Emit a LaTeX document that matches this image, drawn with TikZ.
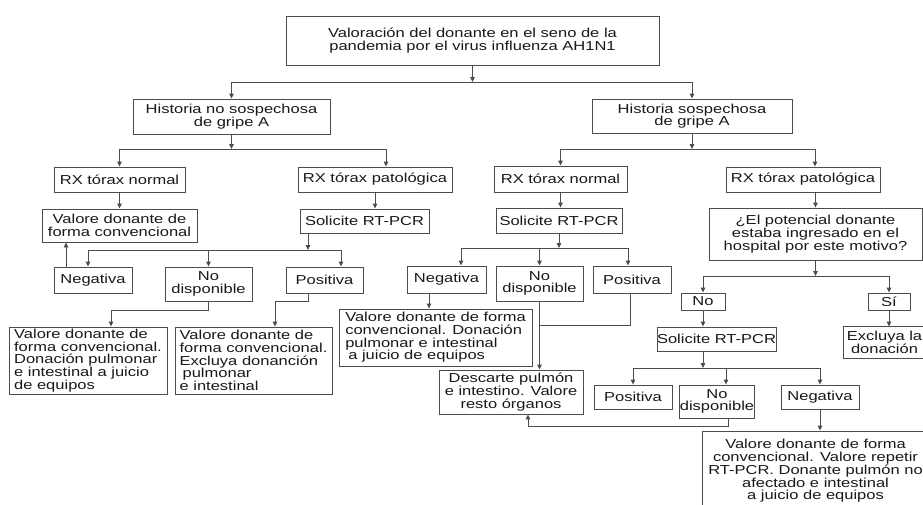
\documentclass[tikz,border=0pt]{standalone}
\usepackage{fontspec}
\setmainfont{Liberation Sans}[FakeStretch=1.27]
\usetikzlibrary{arrows.meta}
\begin{document}
\begin{tikzpicture}[x=1pt,y=-1pt,
  box/.style={draw=black!70, line width=0.9pt, inner sep=0pt, align=center,
    font=\fontsize{13}{12.7}\selectfont, text=black!90},
  lbox/.style={box, align=left},
  sz/.style 2 args={minimum width=#1pt, minimum height=#2pt},
  arr/.style={draw=black!70, line width=0.9pt, -{Triangle[length=5pt,width=4.5pt]}},
  ln/.style={draw=black!70, line width=0.9pt}]
\useasboundingbox (0,0) rectangle (923,504);
\clip (0,0) rectangle (923,504);
\fill[white] (0,0) rectangle (923,504);

% nodes
\node[box, sz={373}{49}] (top) at (472.5,40.5) {Valoración del donante en el seno de la\\pandemia por el virus influenza AH1N1};
\node[box, sz={197}{35}] (hns) at (231.5,116.5) {Historia no sospechosa\\de gripe A};
\node[box, sz={200}{34}] (hs) at (692,116) {Historia sospechosa\\de gripe A};

\node[box, sz={131}{25}] (rxn1) at (119.5,179.5) {RX tórax normal};
\node[box, sz={154}{25}] (rxp1) at (375,179.5) {RX tórax patológica};
\node[box, sz={155}{33}] (val1) at (119.5,225.5) {Valore donante de\\forma convencional};
\node[box, sz={129}{24}] (sol1) at (364.5,221) {Solicite RT-PCR};
\node[box, sz={78}{26}] (neg1) at (93,280) {Negativa};
\node[box, sz={87}{34}] (nd1) at (208.5,284) {No\\disponible};
\node[box, sz={77}{26}] (pos1) at (324.5,280) {Positiva};
\node[lbox, sz={158}{67}] (res1a) at (88,360.5) {Valore donante de\\forma convencional.\\Donación pulmonar\\e intestinal a juicio\\de equipos};
\node[lbox, sz={157}{67}] (res1b) at (253.5,360.5) {Valore donante de\\forma convencional.\\Excluya donanción\\\hspace{3pt}pulmonar\\e intestinal};

\node[box, sz={133}{26}] (rxn2) at (560.5,179) {RX tórax normal};
\node[box, sz={126}{25}] (sol2) at (559,220.5) {Solicite RT-PCR};
\node[box, sz={79}{27}] (neg2) at (446.5,279.5) {Negativa};
\node[box, sz={87}{35}] (nd2) at (539.5,283.5) {No\\disponible};
\node[box, sz={78}{27}] (pos2) at (632,279.5) {Positiva};
\node[lbox, sz={193}{57}] (res2) at (435.5,337.5) {Valore donante de forma\\convencional. Donación\\pulmonar e intestinal\\\hspace{3pt}a juicio de equipos};
\node[box, sz={144}{44}] (desc) at (511,392) {Descarte pulmón\\e intestino. Valore\\resto órganos};

\node[box, sz={154}{25}] (rxp2) at (803,179.5) {RX tórax patológica};
\node[box, sz={213}{52}] (q) at (815.5,234) {¿El potencial donante\\estaba ingresado en el\\hospital por este motivo?};
\node[box, sz={44}{17}] (no) at (703,301.5) {No};
\node[box, sz={42}{17}] (si) at (889,301.5) {Sí};
\node[box, draw=none, sz={81}{31}] (excl) at (884.5,342.5) {Excluya la\\donación};
\draw[ln] ([xshift=20pt]excl.north east) -- (excl.north west) -- (excl.south west) -- ([xshift=20pt]excl.south east);
\node[box, sz={101}{24}] (sol3) at (716.5,339) {Solicite RT-PCR};
\node[box, sz={78}{24}] (pos3) at (633,397) {Positiva};
\node[box, sz={72}{33}] (nd3) at (717,401.5) {No\\disponible};
\node[box, sz={78}{24}] (neg3) at (820,397) {Negativa};
\node[box, sz={227}{80}] (big) at (815.5,471) {Valore donante de forma\\convencional. Valore repetir\\RT-PCR. Donante pulmón no\\afectado e intestinal\\a juicio de equipos};

% junctions
\coordinate (j0) at (472.5,82);
\coordinate (j1) at (231.5,149);
\coordinate (j2) at (692,149);
\coordinate (j3) at (308,250);
\coordinate (j4) at (559,248);
\coordinate (j5) at (815.5,276);
\coordinate (j6) at (703,368);

% level 1
\draw[arr] (top.south) -- (j0);
\draw[arr] (j0) -| (hns.north);
\draw[arr] (j0) -| (hs.north);

% left subtree
\draw[arr] (hns.south) -- (j1);
\draw[arr] (j1) -| (rxn1.north);
\draw[arr] (j1) -| ([xshift=11pt]rxp1.north);
\draw[arr] (rxn1) -- (val1);
\draw[arr] (rxp1.south) -- (rxp1.south |- sol1.north);
\draw[arr] (j3 |- sol1.south) -- (j3);
\draw[arr] (j3) -| ([xshift=-5pt]neg1.north);
\draw[arr] (j3) -| (nd1.north);
\draw[arr] (j3) -| ([xshift=16.5pt]pos1.north);
\coordinate (n1up) at ([xshift=-27pt]neg1.north);
\draw[arr] (n1up) -- (n1up |- val1.south);
\draw[arr] (nd1.south) -- ++(0,9) -| ([xshift=23pt]res1a.north);
\draw[arr] ([xshift=-16.5pt]pos1.south) -- ++(0,8) -| ([xshift=21.5pt]res1b.north);

% middle subtree
\draw[arr] (hs.south) -- (j2);
\draw[arr] (j2) -| (rxn2.north);
\draw[arr] (j2) -| ([xshift=12pt]rxp2.north);
\draw[arr] (rxn2.south) -- (rxn2.south |- sol2.north);
\draw[arr] (sol2.south) -- (j4);
\draw[arr] (j4) -| ([xshift=14.5pt]neg2.north);
\draw[arr] (j4) -| (nd2.north);
\draw[arr] (j4) -| ([xshift=-4pt]pos2.north);
\coordinate (n2dn) at ([xshift=-17.5pt]neg2.south);
\draw[arr] (n2dn) -- (n2dn |- res2.north);
\draw[arr] (nd2.south) -- (nd2.south |- desc.north);
\draw[ln] ([xshift=-2pt]pos2.south) |- ([yshift=-24pt]nd2.south);

% right subtree
\draw[arr] (rxp2.south -| q.north) -- (q.north);
\draw[arr] (q.south) -- (j5);
\draw[arr] (j5) -| (no.north);
\draw[arr] (j5) -| (si.north);
\draw[arr] (no.south) -- (no.south |- sol3.north);
\draw[arr] (si.south) -- (si.south |- excl.north);
\draw[arr] (j6 |- sol3.south) -- (j6);
\draw[arr] (j6) -| (pos3.north);
\draw[arr] (j6) -| ([xshift=9pt]nd3.north);
\draw[arr] (j6) -| (neg3.north);
\draw[arr] ([xshift=11pt]nd3.south) -- ++(0,8) -| ([xshift=17pt]desc.south);
\draw[arr] (neg3.south) -- (neg3.south |- big.north);
\end{tikzpicture}
\end{document}
